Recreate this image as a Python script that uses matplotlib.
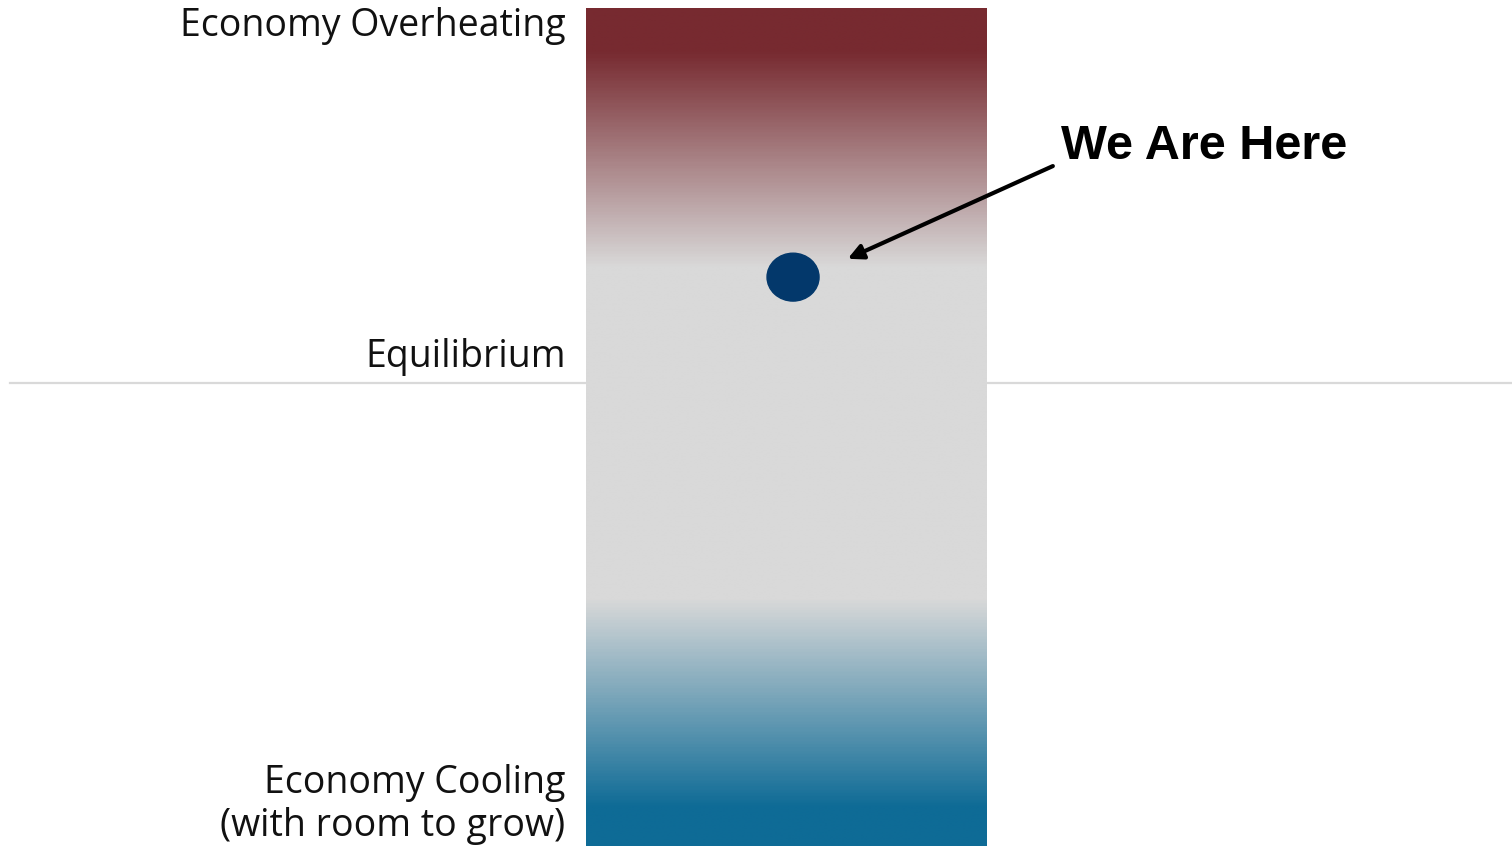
import matplotlib
matplotlib.use('Agg')
import matplotlib.pyplot as plt
import numpy as np
from matplotlib.colors import LinearSegmentedColormap
from matplotlib.patches import Ellipse

# scale: 100 = economy overheating, 0 = equilibrium, negative = cooling
bar_top = 100.0
bar_bottom = -123.8
equilibrium = 0.0
current_level = 28.3   # "We Are Here"

# gradient stops (level, colour)
stop_levels = [-123.8, -114, -58, 31, 89, 100]
stop_colors = ["#0e6b96", "#0e6b96", "#d9d9d9", "#d9d9d9", "#772a30", "#772a30"]

label_texts = ["Economy Overheating", "Equilibrium", "Economy Cooling", "(with room to grow)"]
label_levels = [92.8, 4.3, -109.6, -121.1]

fig = plt.figure(figsize=(15.12, 8.46), dpi=100)
ax = fig.add_axes([0, 0, 1, 1])
ax.set_xlim(0, 100)
ax.set_ylim(-123.8, 102.4)
ax.axis('off')

# equilibrium line
ax.plot([0.66, 100], [equilibrium, equilibrium], color="#d9d9d9", lw=1.6, zorder=1)

# gradient bar
pos = [(v - stop_levels[0]) / (stop_levels[-1] - stop_levels[0]) for v in stop_levels]
cmap = LinearSegmentedColormap.from_list("heat", list(zip(pos, stop_colors)))
grad = np.linspace(bar_bottom, bar_top, 600).reshape(-1, 1)
ax.imshow(grad, cmap=cmap, vmin=stop_levels[0], vmax=stop_levels[-1], origin='lower',
          extent=[38.76, 65.28, bar_bottom, bar_top], aspect='auto', zorder=2,
          interpolation='bilinear')

# dot
ax.add_patch(Ellipse((52.45, current_level), 3.44, 12.8, color="#03386b", zorder=3))

# arrow + annotation
ax.annotate("", xy=(55.9, 32.9), xytext=(69.8, 58.3),
            arrowprops=dict(arrowstyle="-|>,head_length=0.9,head_width=0.45",
                            color="black", lw=3), zorder=4)
ax.text(70.2, 59.9, "We Are Here", fontsize=35, fontfamily="Liberation Sans",
        fontweight="bold", color="black", ha="left", va="baseline")

# labels on the left
for t, y in zip(label_texts, label_levels):
    ax.text(37.4, y, t, fontsize=27, fontfamily="Open Sans", fontweight="normal",
            color="#111111", ha="right", va="baseline")

plt.savefig("out.png", dpi=100)
